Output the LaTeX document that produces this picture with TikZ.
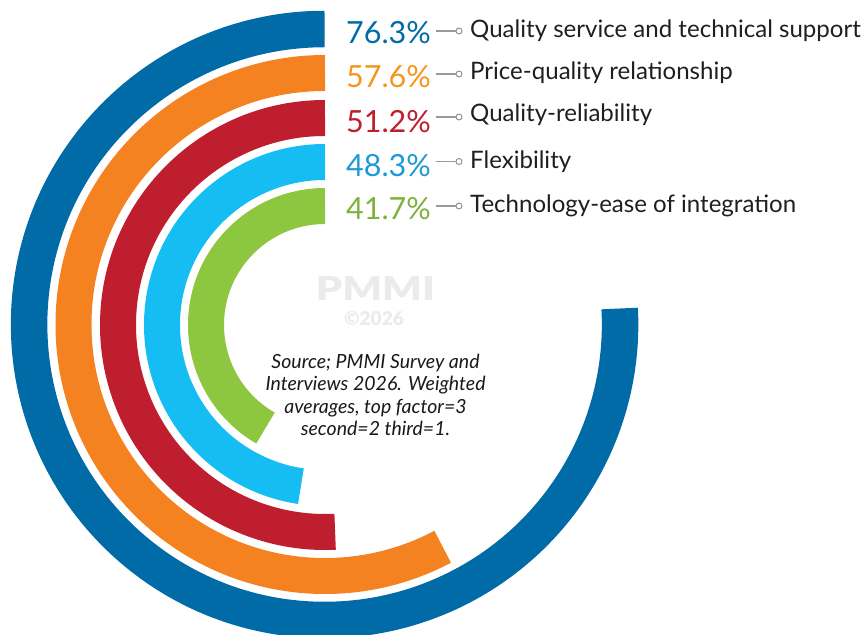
\documentclass[tikz,border=0pt]{standalone}
\usepackage{graphicx}
\usepackage{fontspec}
\setmainfont{Lato}
\newfontfamily\wmfont{Lato Black}
\definecolor{cblue}{HTML}{006BA6}
\definecolor{corange}{HTML}{F58220}
\definecolor{cred}{HTML}{BE1E2D}
\definecolor{ccyan}{HTML}{16BDF2}
\definecolor{cgreen}{HTML}{8DC63F}
\definecolor{tcyan}{HTML}{1B9AD6}
\definecolor{tgreen}{HTML}{7FB23C}
\definecolor{wm}{HTML}{EBEBEB}
\tikzset{
  ringarc/.style={line width=36pt,line cap=butt},
  pct/.style={anchor=center,font=\fontsize{30.5}{30}\selectfont,inner sep=0pt},
  lab/.style={anchor=base west,font=\fontsize{24.05}{25}\selectfont,text=black!88,inner sep=0pt},
  leader/.style={draw=black!40,line width=1.2pt},
  dotend/.style={circle,draw=black!45,fill=white,line width=0.9pt,minimum size=6pt,inner sep=0pt},
}
\begin{document}
\begin{tikzpicture}[x=1pt,y=1pt]
\useasboundingbox (0,0) rectangle (863,635);
\draw[ringarc,line width=36.5pt,cblue] (324.6,606) arc[start angle=90,end angle=363.1,radius=295.5pt];
\draw[ringarc,corange] (325,562) arc[start angle=90,end angle=297.9,radius=251.5pt];
\draw[ringarc,cred] (325,517) arc[start angle=90,end angle=272.8,radius=207pt];
\draw[ringarc,ccyan] (325,473) arc[start angle=90,end angle=261.5,radius=163pt];
\draw[ringarc,cgreen] (325,429) arc[start angle=90,end angle=240,radius=119pt];
\node[pct,text=cblue] (p1) at (388.5,602) {76.3\%};
\node[pct,text=corange!85!yellow] (p2) at (388.5,558) {57.6\%};
\node[pct,text=cred] (p3) at (388.5,513) {51.2\%};
\node[pct,text=tcyan] (p4) at (388.5,469) {48.3\%};
\node[pct,text=tgreen] (p5) at (388.5,426) {41.7\%};
\node[dotend] (d1) at (459,604) {};
\node[dotend] (d2) at (459,561) {};
\node[dotend] (d3) at (459,518) {};
\node[dotend] (d4) at (459,473.5) {};
\node[dotend] (d5) at (459,429) {};
\foreach \i in {1,...,5}{
  \path (d\i.west) ++(-20,0) coordinate (s\i);
  \draw[leader] (s\i) -- (d\i.west);
}
\node[lab] (l1) at (470,597.5) {Quality service and technical support};
\node[lab] (l2) at (470,555) {Price-quality relationship};
\node[lab] (l3) at (470,513.5) {Quality-reliability};
\node[lab] (l4) at (470,466) {Flexibility};
\node[lab] (l5) at (470,422) {Technology-ease of integration};
\node[text=wm,inner sep=0pt] (w1) at (375.5,347) {\resizebox{119pt}{24pt}{\wmfont PMMI}};
\node[font=\wmfont\fontsize{19}{19}\selectfont,text=wm,inner sep=0pt] (w2) at (374,316) {©2026};
\node[font=\fontsize{19.5}{22.3}\selectfont\itshape,text=black!90,align=center,inner sep=0pt] (src) at (375.5,240) {Source; PMMI Survey and\\Interviews 2026. Weighted\\averages, top factor=3\\second=2 third=1.};
\end{tikzpicture}
\end{document}
